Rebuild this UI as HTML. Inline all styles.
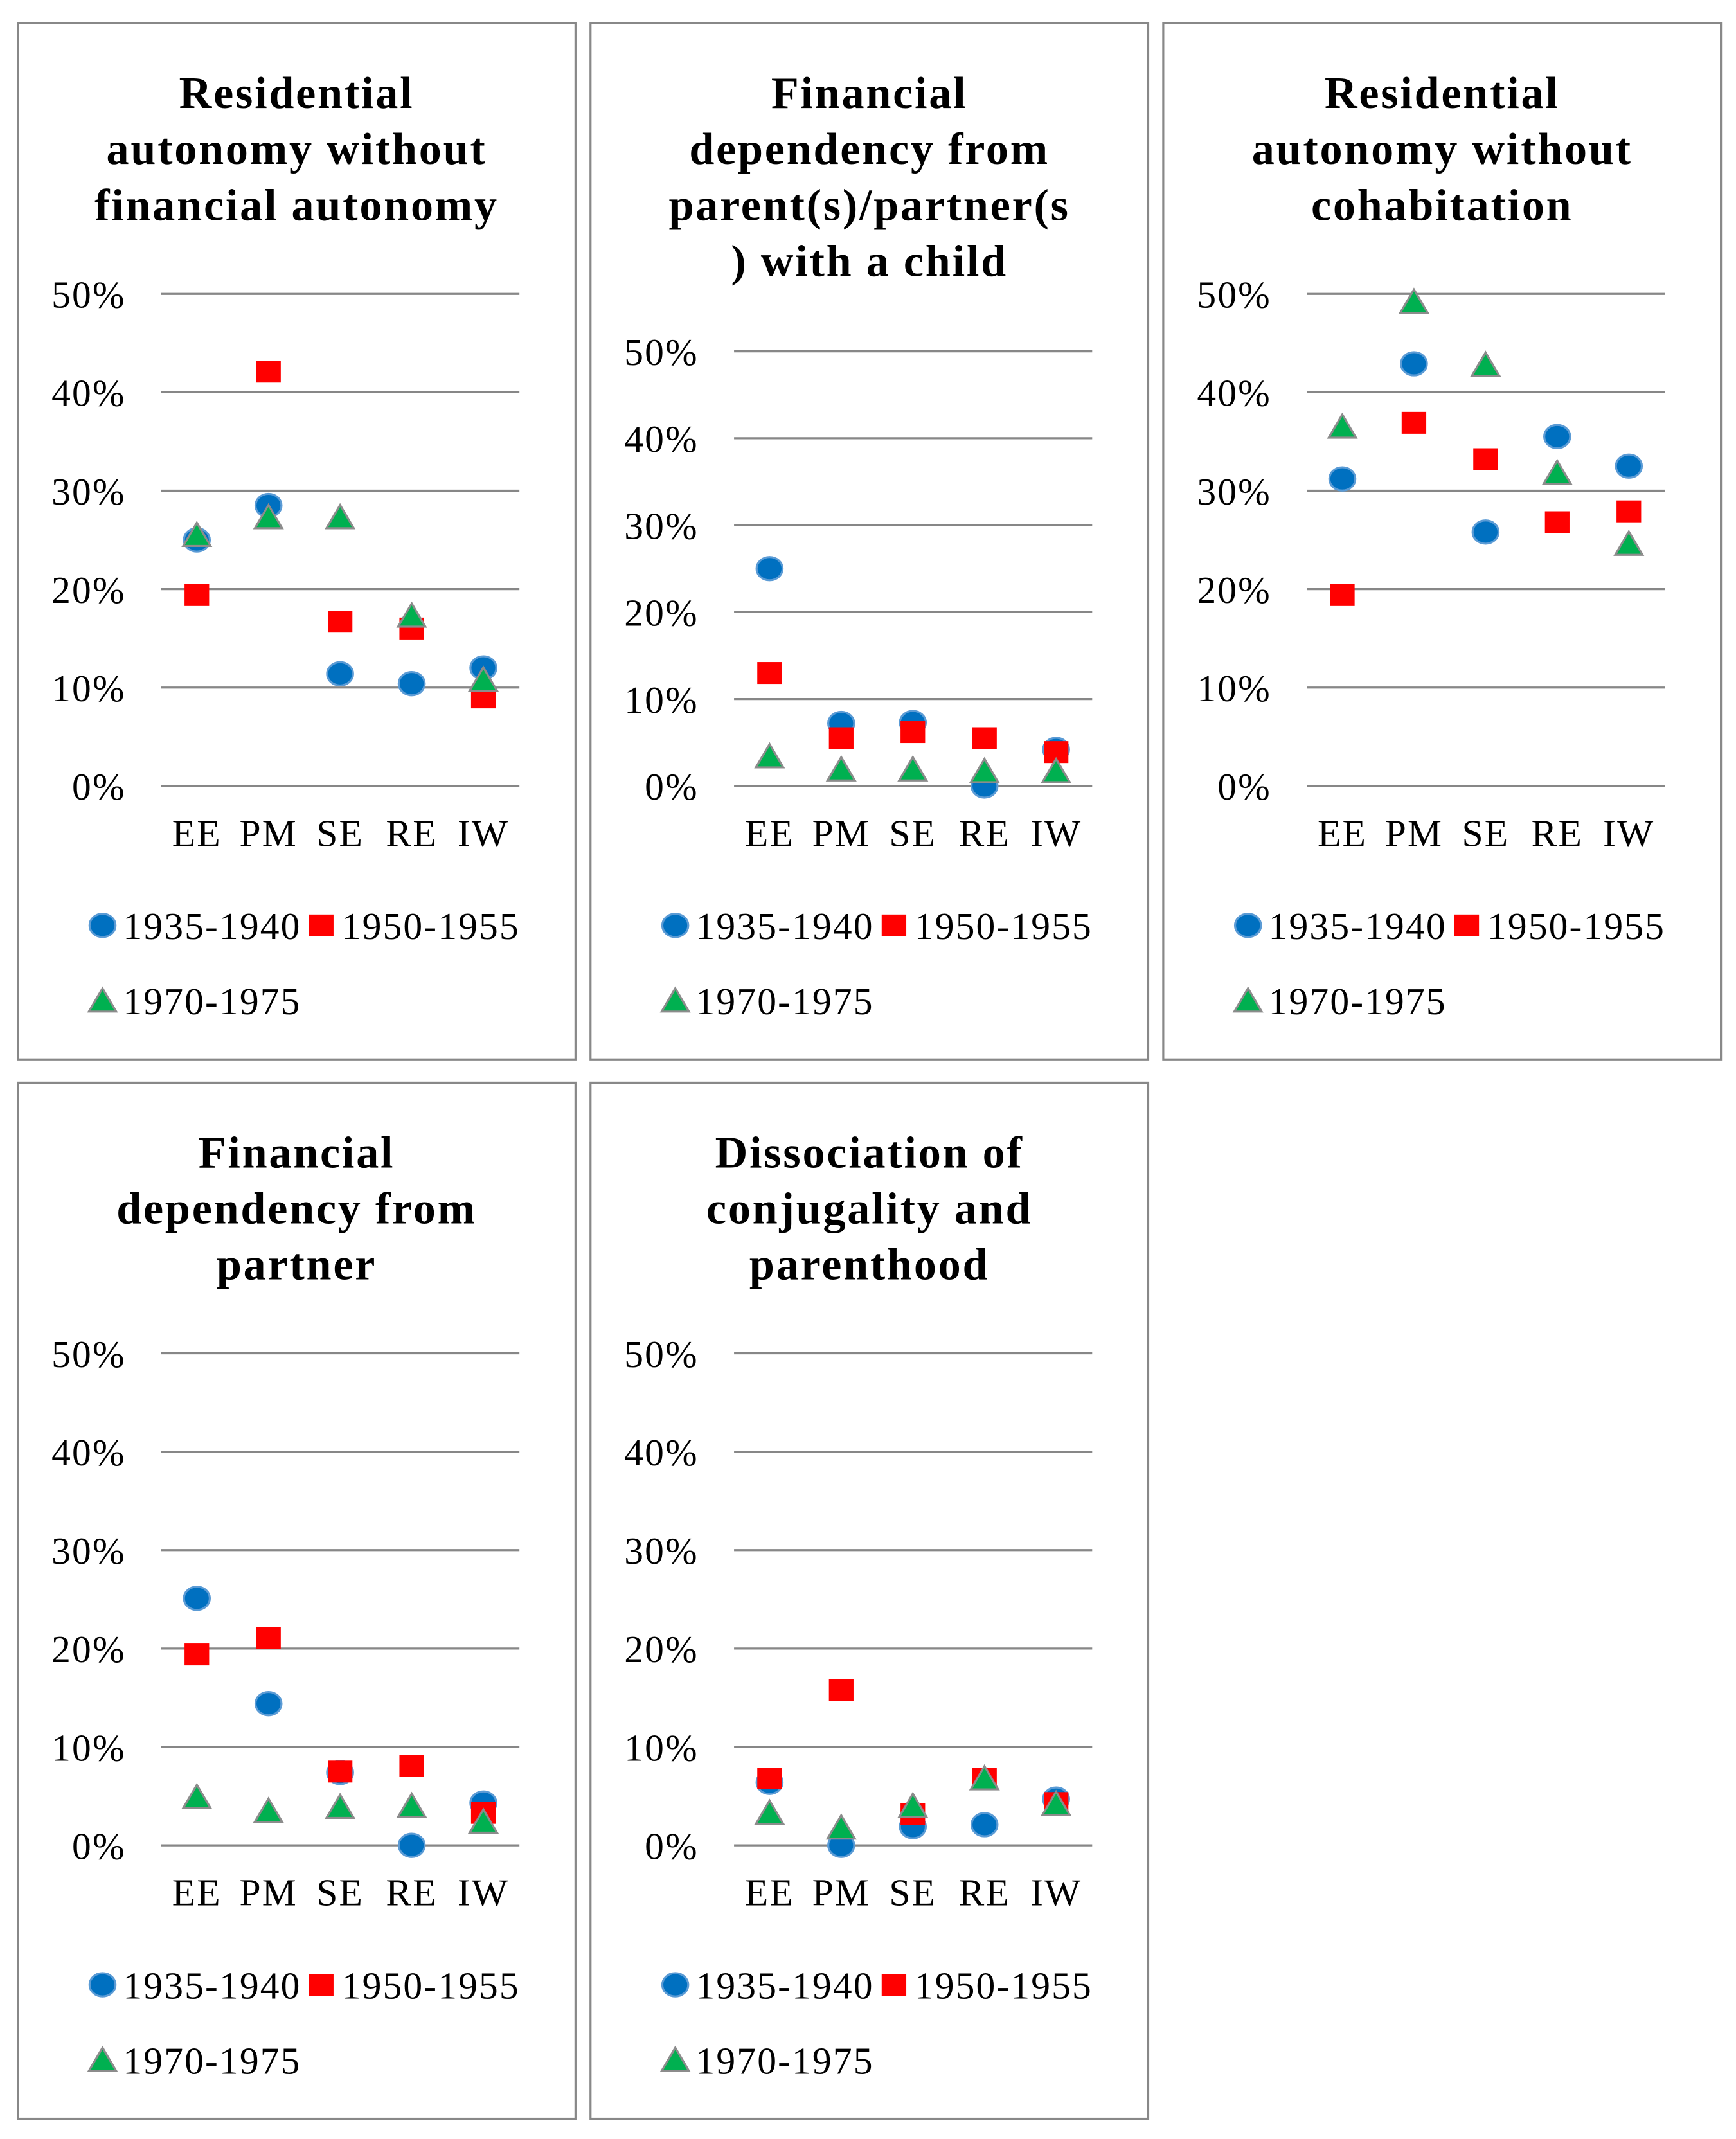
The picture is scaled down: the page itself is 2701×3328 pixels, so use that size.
<!DOCTYPE html>
<html><head><meta charset="utf-8"><style>
html,body{margin:0;padding:0;background:#fff;}
svg{display:block;}
text{font-family:"Liberation Serif",serif;fill:#000;}
</style></head><body>
<svg id="c" width="2701" height="3328" viewBox="0 0 1270 1564.8" xmlns="http://www.w3.org/2000/svg"></svg>
<script>
const categories = ["EE","PM","SE","RE","IW"];
const seriesNames = ["1935-1940","1950-1955","1970-1975"];
const tickLabels = ["0%","10%","20%","30%","40%","50%"];
const tickValues = [0,10,20,30,40,50];
const titles = [
 ["Residential","autonomy without","financial autonomy"],
 ["Financial","dependency from","parent(s)/partner(s",") with a child"],
 ["Residential","autonomy without","cohabitation"],
 ["Financial","dependency from","partner"],
 ["Dissociation of","conjugality and","parenthood"]
];
const p1Blue = [25,28.5,11.4,10.4,12];
const p1Red = [19.4,42.1,16.7,16,9];
const p1Green = [25.5,27.3,27.3,17.3,10.8];
const p2Blue = [25,7.2,7.3,0,4.2];
const p2Red = [13,5.5,6.2,5.5,3.9];
const p2Green = [3.4,1.9,1.9,1.7,1.7];
const p3Blue = [31.2,42.9,25.8,35.5,32.5];
const p3Red = [19.4,36.9,33.2,26.8,27.9];
const p3Green = [36.5,49.2,42.8,31.8,24.6];
const p4Blue = [25.1,14.4,7.4,0,4.3];
const p4Red = [19.4,21.1,7.5,8.1,3.3];
const p4Green = [4.9,3.5,3.9,4,2.4];
const p5Blue = [6.4,0,1.9,2.1,4.7];
const p5Red = [6.8,15.8,3.2,6.8,4.3];
const p5Green = [3.3,1.8,4,6.8,4.2];
const panelData = [[p1Blue,p1Red,p1Green],[p2Blue,p2Red,p2Green],[p3Blue,p3Red,p3Green],[p4Blue,p4Red,p4Green],[p5Blue,p5Red,p5Green]];

const NS="http://www.w3.org/2000/svg";
const svg=document.getElementById('c');
function mk(tag,attrs,parent){const e=document.createElementNS(NS,tag);for(const k in attrs)e.setAttribute(k,attrs[k]);(parent||svg).appendChild(e);return e;}
const layout=[{x:13,y:17,top:215},{x:432,y:17,top:257},{x:851,y:17,top:215},{x:13,y:792,top:990},{x:432,y:792,top:990}];

layout.forEach((L,pi)=>{
  const g=mk('g',{});
  
  
  const oy=L.y-17;
  const frame=mk('rect',{x:L.x,y:L.y,width:408,height:758,fill:'#fff',stroke:'#888',"stroke-width":1.5},g);
  
  
  const cx=L.x+204;
  titles[pi].forEach((ln,i)=>{
    const t=mk('text',{x:cx,y:68+oy+i*41+11,"text-anchor":"middle","font-size":33,"font-weight":"bold","letter-spacing":1.3},g);
    t.textContent=ln;
    
    
  });
  const zeroY=575+oy, topY=L.top;
  const yS=v=>zeroY-(v/50)*(zeroY-topY);
  const xS=i=>L.x+131+i*52.4;
  tickValues.forEach((v,i)=>{
    const l=mk('line',{x1:L.x+105,x2:L.x+367,y1:yS(v),y2:yS(v),stroke:'#878787',"stroke-width":1.5},g);
    
    
    const t=mk('text',{x:L.x+79,y:yS(v)+10,"text-anchor":"end","font-size":28,"letter-spacing":1},g);
    t.textContent=tickLabels[i];
    
    
  });
  categories.forEach((c,i)=>{
    const t=mk('text',{x:xS(i),y:zeroY+44,"text-anchor":"middle","font-size":28,"letter-spacing":1},g);
    t.textContent=c;
    
    
  });
  const d=panelData[pi];
  function circle(x,y,p){const e=mk('ellipse',{cx:x,cy:y,rx:9.5,ry:8.5,fill:'#0070C0',stroke:'#5B9BD5',"stroke-width":1.5},p);return e;}
  function square(x,y,p){return mk('rect',{x:x-9,y:y-8,width:18,height:16,fill:'#FF0000'},p);}
  function tri(x,y,p){return mk('polygon',{points:`${x-10},${y+8} ${x+10},${y+8} ${x},${y-9}`,fill:'#00B050',stroke:'#8C8C8C',"stroke-width":1.5},p);}
  d[0].forEach((v,i)=>{const e=circle(xS(i),yS(v),g);
    
    });
  d[1].forEach((v,i)=>{const e=square(xS(i),yS(v),g);
    
    });
  d[2].forEach((v,i)=>{const e=tri(xS(i),yS(v),g);
    
    });
  const ly1=677+oy, ly2=732+oy;
  const m1=circle(L.x+62,ly1,g);
  
  
  const m2=square(L.x+222,ly1,g);
  
  
  const m3=tri(L.x+62,ly2,g);
  
  
  [[L.x+77,ly1,0],[L.x+237,ly1,1],[L.x+77,ly2,2]].forEach(a=>{
    const t=mk('text',{x:a[0],y:a[1]+10,"font-size":28,"letter-spacing":1},g);
    t.textContent=seriesNames[a[2]];
    
    
  });
});
</script>
</body></html>
